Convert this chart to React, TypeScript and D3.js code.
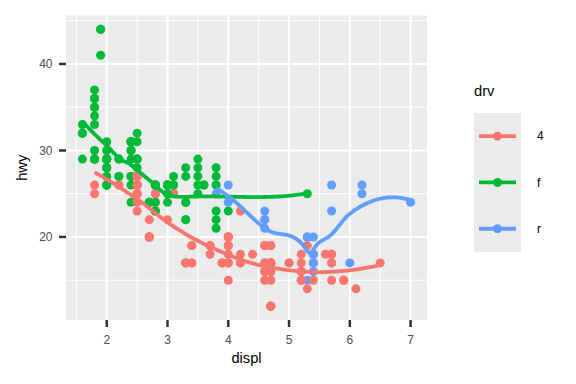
import React from "react";
import * as d3 from "d3";

// mpg dataset: displ, hwy, drv (row order)
const displ: number[] = [
  1.8,1.8,2.0,2.0,2.8,2.8,3.1,
  1.8,1.8,2.0,2.0,2.8,2.8,3.1,3.1,
  2.8,3.1,4.2,
  5.3,5.3,5.3,5.7,6.0,
  5.7,5.7,6.2,6.2,7.0,
  5.3,5.3,5.7,6.5,
  2.4,2.4,3.1,3.5,3.6,
  2.4,3.0,3.3,3.3,3.3,3.3,3.3,3.8,3.8,3.8,4.0,
  3.7,3.7,3.9,3.9,4.7,4.7,4.7,5.2,5.2,
  3.9,4.7,4.7,4.7,5.2,5.2,5.9,
  4.7,4.7,4.7,4.7,4.7,4.7,5.2,5.2,5.7,5.9,
  4.6,5.4,5.4,
  4.0,4.0,4.0,4.0,4.6,5.0,
  4.2,4.2,4.6,4.6,4.6,5.4,5.4,
  3.8,3.8,4.0,4.0,4.6,4.6,4.6,4.6,5.4,
  1.6,1.6,1.6,1.6,1.6,1.8,1.8,1.8,2.0,
  2.4,2.4,2.4,2.4,2.5,2.5,3.3,
  2.0,2.0,2.0,2.0,2.7,2.7,2.7,
  3.0,3.7,4.0,4.7,4.7,4.7,5.7,6.1,
  4.0,4.2,4.4,4.6,
  5.4,5.4,5.4,
  4.0,4.0,4.6,5.0,
  2.4,2.4,2.5,2.5,3.5,3.5,
  3.0,3.0,3.5,
  3.3,3.3,4.0,5.6,
  3.1,3.8,3.8,3.8,5.3,
  2.5,2.5,2.5,2.5,2.5,2.5,
  2.2,2.2,2.5,2.5,2.5,2.5,2.5,2.5,
  2.7,2.7,3.4,3.4,4.0,4.7,
  2.2,2.2,2.4,2.4,3.0,3.0,3.5,
  2.2,2.2,2.4,2.4,3.0,3.0,3.3,
  1.8,1.8,1.8,1.8,1.8,
  4.7,5.7,
  2.7,2.7,2.7,3.4,3.4,4.0,4.0,
  2.0,2.0,2.0,2.0,2.8,
  1.9,2.0,2.0,2.0,2.0,2.5,2.5,2.8,2.8,
  1.9,1.9,2.0,2.0,2.5,2.5,
  1.8,1.8,2.0,2.0,2.8,2.8,3.6,
];
const hwy: number[] = [
  29,29,31,30,26,26,27,
  26,25,28,27,25,25,25,25,
  24,25,23,
  20,15,20,17,17,
  26,23,26,25,24,
  19,14,15,17,
  27,30,26,29,26,
  24,24,22,22,24,24,17,22,21,23,23,
  19,18,17,17,19,19,12,17,15,
  17,17,12,17,16,18,15,
  16,12,17,17,16,12,15,16,17,15,
  17,17,18,
  17,19,17,19,19,17,
  17,17,16,16,17,15,17,
  26,25,26,24,21,22,23,22,20,
  33,32,32,29,32,34,36,36,29,
  26,27,30,31,26,26,28,
  26,29,28,27,24,24,24,
  22,19,20,17,12,19,18,14,
  15,18,18,15,
  17,16,18,
  17,19,19,17,
  29,27,31,32,27,26,
  26,25,25,
  17,17,20,18,
  26,26,27,28,25,
  25,24,27,25,26,23,
  26,26,26,26,25,27,25,27,
  20,20,19,17,20,17,
  29,27,31,31,26,26,28,
  27,29,31,31,26,26,27,
  30,33,35,37,35,
  15,18,
  20,20,22,17,19,18,20,
  29,29,28,29,23,
  44,29,26,29,29,29,29,23,24,
  44,41,29,26,28,29,
  29,29,28,29,26,26,26,
];
const drvRuns: [string, number][] = [
  ["f",7],["4",8],["4",3],["r",5],["r",5],["4",4],["f",5],["f",11],["4",9],["4",7],
  ["4",10],["r",3],["4",6],["4",7],["r",9],["f",9],["f",7],["f",7],["4",8],["4",4],
  ["r",3],["4",4],["f",6],["f",3],["4",4],["f",5],["4",6],["4",8],["4",6],["f",7],
  ["f",7],["f",5],["4",2],["4",7],["f",5],["f",9],["f",6],["f",7],
];
const drv: string[] = drvRuns.flatMap(([lv, k]) => Array(k).fill(lv));

const drvLevels = ["4", "f", "r"];
const drvColors = ["#F8766D", "#00BA38", "#619CFF"];
const xTicks = [2, 3, 4, 5, 6, 7];
const yTicks = [20, 30, 40];

// local quadratic fit (value and slope) at x0, tricube weights
function localFit(xs: number[], ys: number[], x0: number, q: number): [number, number] {
  const n = xs.length;
  const dist = xs.map((x) => Math.abs(x - x0));
  const sorted = [...dist].sort((a, b) => a - b);
  const h = sorted[q - 1];
  const s = [0, 0, 0, 0, 0];
  const t = [0, 0, 0];
  for (let i = 0; i < n; i++) {
    const u = dist[i] / h;
    if (u >= 1) continue;
    const w = Math.pow(1 - u * u * u, 3);
    const dx = xs[i] - x0;
    let p = 1;
    for (let k = 0; k < 5; k++) {
      s[k] += w * p;
      if (k < 3) t[k] += w * p * ys[i];
      p *= dx;
    }
  }
  const A = [
    [s[0], s[1], s[2], t[0]],
    [s[1], s[2], s[3], t[1]],
    [s[2], s[3], s[4], t[2]],
  ];
  for (let c = 0; c < 3; c++) {
    let piv = c;
    for (let r = c + 1; r < 3; r++) if (Math.abs(A[r][c]) > Math.abs(A[piv][c])) piv = r;
    [A[c], A[piv]] = [A[piv], A[c]];
    for (let r = 0; r < 3; r++) {
      if (r === c) continue;
      const f = A[r][c] / A[c][c];
      for (let k = c; k < 4; k++) A[r][k] -= f * A[c][k];
    }
  }
  return [A[0][3] / A[0][0], A[1][3] / A[1][1]];
}

type Cell = { lo: number; hi: number; split?: number; left?: Cell; right?: Cell };

// loess with kd-tree vertex interpolation (as R's surface = "interpolate")
function loessCurve(xs0: number[], ys0: number[], evalX: number[], span = 0.75, cellF = 0.2): number[] {
  const order = d3.range(xs0.length).sort((a, b) => xs0[a] - xs0[b]);
  const xs = order.map((i) => xs0[i]);
  const ys = order.map((i) => ys0[i]);
  const n = xs.length;
  const q = Math.floor(n * span + 1e-5);
  const fc = Math.floor(n * span * cellF);
  const mn = xs[0], mx = xs[n - 1];
  const mu = 0.005 * Math.max(mx - mn, 1e-10 * Math.max(Math.abs(mn), Math.abs(mx)) + 1e-30);
  const build = (l: number, u: number, lo: number, hi: number): Cell => {
    const cell: Cell = { lo, hi };
    if (u - l + 1 <= fc || hi - lo <= 0) return cell;
    let m = Math.floor((l + u) / 2);
    let offset = 0;
    while (!(m + offset >= u || m + offset < l)) {
      if (xs[m + offset - 1] === xs[m + offset]) {
        offset = -offset;
        if (offset >= 0) offset += 1;
      } else {
        m = m + offset;
        break;
      }
    }
    const v = xs[m - 1];
    if (v === lo || v === hi) return cell;
    cell.split = v;
    cell.left = build(l, m, lo, v);
    cell.right = build(m + 1, u, v, hi);
    return cell;
  };
  const root = build(1, n, mn - mu, mx + mu);
  const cache = new Map<number, [number, number]>();
  const fitAt = (v: number) => {
    if (!cache.has(v)) cache.set(v, localFit(xs, ys, v, q));
    return cache.get(v)!;
  };
  return evalX.map((z) => {
    let c = root;
    while (c.split !== undefined) c = z <= c.split ? c.left! : c.right!;
    const [g0, s0] = fitAt(c.lo);
    const [g1, s1] = fitAt(c.hi);
    const dlt = c.hi - c.lo;
    const hh = (z - c.lo) / dlt;
    const phi0 = (1 - hh) * (1 - hh) * (1 + 2 * hh);
    const phi1 = hh * hh * (3 - 2 * hh);
    const psi0 = hh * (1 - hh) * (1 - hh);
    const psi1 = -hh * hh * (1 - hh);
    return phi0 * g0 + phi1 * g1 + (psi0 * s0 + psi1 * s1) * dlt;
  });
}

const W = 576, H = 384;
const panel = { left: 66, right: 427, top: 15.5, bottom: 320 };

export default function App() {
  const [xmin, xmax] = d3.extent(displ) as [number, number];
  const [ymin, ymax] = d3.extent(hwy) as [number, number];
  const xe = (xmax - xmin) * 0.05, ye = (ymax - ymin) * 0.05;
  const x = d3.scaleLinear().domain([xmin - xe, xmax + xe]).range([panel.left, panel.right]);
  const y = d3.scaleLinear().domain([ymin - ye, ymax + ye]).range([panel.bottom, panel.top]);
  const color = d3.scaleOrdinal<string, string>().domain(drvLevels).range(drvColors);

  const xMinor = xTicks.slice(0, -1).map((v, i) => (v + xTicks[i + 1]) / 2);
  xMinor.unshift(xTicks[0] - 0.5);
  const yMinor = [15, 25, 35, 45];

  const smooths = drvLevels.map((lv) => {
    const idx = d3.range(displ.length).filter((i) => drv[i] === lv);
    const xs = idx.map((i) => displ[i]);
    const ys = idx.map((i) => hwy[i]);
    const [a, b] = d3.extent(xs) as [number, number];
    const ex = d3.range(80).map((k) => a + ((b - a) * k) / 79);
    const fit = loessCurve(xs, ys, ex);
    const pts: [number, number][] = ex.map((xv, k) => [xv, fit[k]]);
    return { lv, pts };
  });
  const line = d3.line<[number, number]>().x((d) => x(d[0])).y((d) => y(d[1]));

  const font = "Liberation Sans, Arial, sans-serif";
  const legX = 474, legY = 113, keyH = 46.3, keyW = 47;
  const ptR = 4.5;

  return (
    <svg width={W} height={H} style={{ position: "absolute", left: 0, top: 0, background: "#fff" }} fontFamily={font}>
      <defs>
        <clipPath id="pclip">
          <rect x={panel.left} y={panel.top} width={panel.right - panel.left} height={panel.bottom - panel.top} />
        </clipPath>
      </defs>
      <rect x={panel.left} y={panel.top} width={panel.right - panel.left} height={panel.bottom - panel.top} fill="#EBEBEB" />
      {xMinor.map((v) => (
        <line key={"xm" + v} x1={x(v)} x2={x(v)} y1={panel.top} y2={panel.bottom} stroke="#fff" strokeWidth={1} />
      ))}
      {yMinor.map((v) => (
        <line key={"ym" + v} y1={y(v)} y2={y(v)} x1={panel.left} x2={panel.right} stroke="#fff" strokeWidth={1} />
      ))}
      {xTicks.map((v) => (
        <line key={"xM" + v} x1={x(v)} x2={x(v)} y1={panel.top} y2={panel.bottom} stroke="#fff" strokeWidth={2} />
      ))}
      {yTicks.map((v) => (
        <line key={"yM" + v} y1={y(v)} y2={y(v)} x1={panel.left} x2={panel.right} stroke="#fff" strokeWidth={2} />
      ))}
      <g clipPath="url(#pclip)">
        {displ.map((d, i) => (
          <circle key={"p" + i} cx={x(d)} cy={y(hwy[i])} r={ptR} fill={color(drv[i])} />
        ))}
        {smooths.map((s) => (
          <path key={"s" + s.lv} d={line(s.pts) || ""} fill="none" stroke={color(s.lv)} strokeWidth={3.8} />
        ))}
      </g>
      {xTicks.map((v) => (
        <g key={"xt" + v}>
          <line x1={x(v)} x2={x(v)} y1={panel.bottom} y2={panel.bottom + 7} stroke="#333" strokeWidth={2.5} />
          <text x={x(v)} y={panel.bottom + 23.5} textAnchor="middle" fontSize={12} fill="#4D4D4D">{v}</text>
        </g>
      ))}
      {yTicks.map((v) => (
        <g key={"yt" + v}>
          <line x1={panel.left - 7} x2={panel.left} y1={y(v)} y2={y(v)} stroke="#333" strokeWidth={2.5} />
          <text x={panel.left - 13.5} y={y(v) + 4.4} textAnchor="end" fontSize={12} fill="#4D4D4D">{v}</text>
        </g>
      ))}
      <text x={(panel.left + panel.right) / 2} y={363} textAnchor="middle" fontSize={14.7} fill="#000">displ</text>
      <text transform={`translate(27,${(panel.top + panel.bottom) / 2}) rotate(-90)`} textAnchor="middle" fontSize={14.7} fill="#000">hwy</text>
      <text x={legX} y={96} fontSize={14.7} fill="#000">drv</text>
      <rect x={legX} y={legY} width={keyW} height={keyH * 3} fill="#EBEBEB" />
      {drvLevels.map((lv, i) => {
        const cy = legY + keyH * i + keyH / 2;
        return (
          <g key={"leg" + lv}>
            <line x1={legX + 5} x2={legX + keyW - 5} y1={cy} y2={cy} stroke={color(lv)} strokeWidth={3.8} />
            <circle cx={legX + keyW / 2} cy={cy} r={ptR} fill={color(lv)} />
            <text x={537} y={cy + 4.2} fontSize={12} fill="#000">{lv}</text>
          </g>
        );
      })}
    </svg>
  );
}
